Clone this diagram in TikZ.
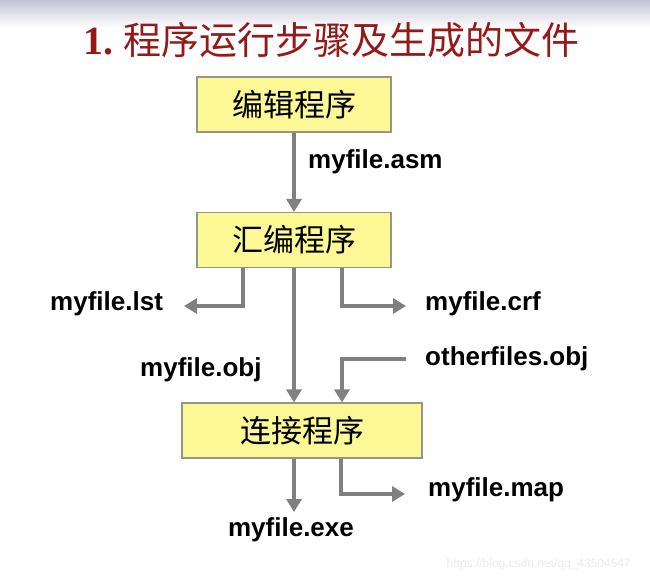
\documentclass[tikz,border=0pt]{standalone}
\usepackage{fontspec}
\setmainfont{Liberation Sans}
\newfontfamily\cjk{Noto Sans CJK SC}
\newfontfamily\titleserif{Liberation Serif}
\usetikzlibrary{arrows.meta}
\definecolor{boxfill}{RGB}{252,248,150}
\definecolor{boxline}{RGB}{150,150,135}
\definecolor{arrowgray}{RGB}{128,128,128}
\definecolor{titlered}{RGB}{150,25,25}
\definecolor{bandtop}{RGB}{196,196,216}
\tikzset{
  x=1pt,y=-1pt,
  procbox/.style={draw=boxline,line width=1.2pt,fill=boxfill,minimum width=194pt,minimum height=55pt,inner sep=0pt,font=\cjk\fontsize{31}{31}\selectfont},
  flow/.style={draw=arrowgray,line width=3.5pt,-{Triangle[length=13pt,width=15pt]}},
  fname/.style={font=\bfseries\fontsize{26}{26}\selectfont,inner sep=0pt},
}
\begin{document}
\begin{tikzpicture}
\useasboundingbox (0,0) rectangle (650,578);
\fill[white] (0,0) rectangle (650,578);
\shade[top color=bandtop,bottom color=white] (0,0) rectangle (650,28);
% title
\node[anchor=west,inner sep=0pt,text=titlered] (title) at (83,40)
  {{\titleserif\bfseries\fontsize{40}{40}\selectfont 1.}\hspace{10pt}{\cjk\fontsize{38}{38}\selectfont 程序运行步骤及生成的文件}};
% boxes
\node[procbox] (b1) at (294,104.5) {编辑程序};
\node[procbox] (b2) at (294,240) {汇编程序};
\node[procbox,minimum width=240pt] (b3) at (302,430.5) {连接程序};
% labels
\node[fname,anchor=west] (asm) at (308,162) {myfile.asm};
\node[fname,anchor=west] (lst) at (50,304) {myfile.lst};
\node[fname,anchor=west] (crf) at (425,304) {myfile.crf};
\node[fname,anchor=west] (obj) at (140,370) {myfile.obj};
\node[fname,anchor=west] (oth) at (425,359) {otherfiles.obj};
\node[fname,anchor=west] (map) at (428,490) {myfile.map};
\node[fname] (exe) at (291,530) {myfile.exe};
\node[anchor=east,inner sep=0pt,text=black!8,font=\fontsize{12}{12}\selectfont] (wm) at (631,564) {https://blog.csdn.net/qq\_43504547};
% coordinates
\coordinate (lstend) at (184,306);
\coordinate (crfend) at (406,306);
\coordinate (othstart) at (406,359);
\coordinate (mapend) at (405,494);
\coordinate (exeend) at (294,512);
% connectors
\draw[flow] (b1.south) -- (b2.north);
\draw[flow] (b2.south -| 243,0) |- (lstend);
\draw[flow] (b2.south -| 342,0) |- (crfend);
\draw[flow] (b2.south) -- (b3.north -| 294,0);
\draw[flow] (othstart) -| (b3.north -| 342,0);
\draw[flow] (b3.south -| 294,0) -- (exeend);
\draw[flow] (b3.south -| 341,0) |- (mapend);
\end{tikzpicture}
\end{document}
